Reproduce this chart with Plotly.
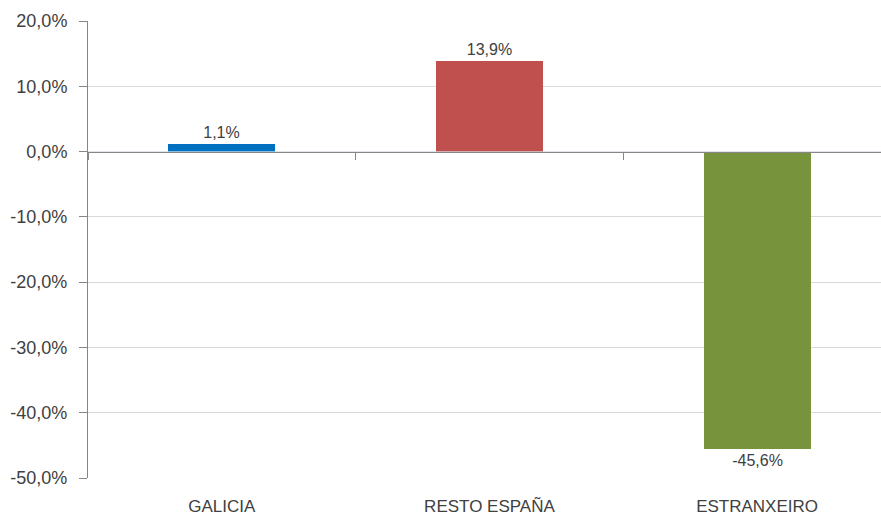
import plotly.graph_objects as go

categories = ["GALICIA", "RESTO ESPAÑA", "ESTRANXEIRO"]
values = [0.011, 0.139, -0.456]
colors = ["#0070C0", "#C0504D", "#77933C"]
y_ticks = [0.2, 0.1, 0.0, -0.1, -0.2, -0.3, -0.4, -0.5]
y_ticklabels = ["20,0%", "10,0%", "0,0%", "-10,0%", "-20,0%", "-30,0%", "-40,0%", "-50,0%"]

FONT = "Liberation Sans, Arial, sans-serif"
TXT = "#404040"

fig = go.Figure()
fig.add_trace(go.Bar(
    x=categories, y=values,
    marker=dict(color=colors, line=dict(width=0)),
    width=0.4,
    texttemplate="%{y:.1%}",
    textposition="outside",
    textfont=dict(family=FONT, size=16, color=TXT),
    cliponaxis=False,
    hoverinfo="skip",
))
# invisible trace for the zero-line axis with boundary ticks
fig.add_trace(go.Bar(x=categories, y=[0, 0, 0], xaxis="x2", yaxis="y",
                     marker=dict(color="rgba(0,0,0,0)"), showlegend=False,
                     hoverinfo="skip"))

ymin, ymax = -0.5, 0.2
zero_pos = (0 - ymin) / (ymax - ymin)

fig.update_layout(
    width=881, height=516,
    margin=dict(l=88, r=0, t=21, b=38, autoexpand=False),
    paper_bgcolor="white", plot_bgcolor="white",
    showlegend=False,
    separators=",.",
    bargap=0,
    font=dict(family=FONT, color=TXT),
    xaxis=dict(
        type="category",
        categoryorder="array", categoryarray=categories,
        range=[-0.5, 2.463],
        showline=False, showgrid=False, zeroline=False,
        ticks="", automargin=False,
        tickfont=dict(family=FONT, size=17, color=TXT),
        ticklabelstandoff=16,
    ),
    xaxis2=dict(
        type="category",
        categoryorder="array", categoryarray=categories,
        range=[-0.5, 2.463],
        overlaying="x", anchor="free", position=zero_pos,
        showline=True, linecolor="#868686", linewidth=1,
        ticks="outside", tickson="boundaries", ticklen=7,
        tickcolor="#868686", tickwidth=1, automargin=False,
        showticklabels=False, showgrid=False, zeroline=False,
    ),
    yaxis=dict(
        range=[ymin, ymax],
        tickvals=y_ticks, ticktext=y_ticklabels,
        showgrid=True, gridcolor="#D9D9D9", gridwidth=1,
        zeroline=False, automargin=False,
        showline=True, linecolor="#868686", linewidth=1,
        ticks="outside", ticklen=8, tickcolor="#868686",
        ticklabelstandoff=8,
        tickfont=dict(family=FONT, size=18, color=TXT),
    ),
)

fig.write_html(
    "out.html",
    config={"displayModeBar": False},
    post_script="document.body.style.margin='0';document.body.style.overflow='hidden';",
)
